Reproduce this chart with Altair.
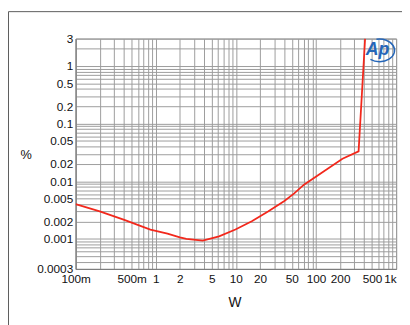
import altair as alt
import pandas as pd

# Measured curve (power in W, THD+N in %)
watts = [0.1, 0.2, 0.405, 0.857, 1.4, 2.0, 2.41, 3.86, 6.17, 9.87, 15.8, 25.2, 40.3, 53.5,
         70.8, 214, 340, 410]
pct = [0.0040, 0.0030, 0.00213, 0.00144, 0.00123, 0.00106, 0.00100, 0.00093, 0.00110,
       0.00145, 0.00202, 0.00299, 0.00454, 0.00614, 0.0087, 0.0245, 0.0331, 3.0]

x_labels = {0.1: "100m", 0.5: "500m", 1.0: "1", 2.0: "2", 5.0: "5", 10.0: "10", 20.0: "20",
            50.0: "50", 100.0: "100", 200.0: "200", 500.0: "500", 1000.0: "1k"}
y_labels = {3.0: "3", 1.0: "1", 0.5: "0.5", 0.2: "0.2", 0.1: "0.1", 0.05: "0.05", 0.02: "0.02",
            0.01: "0.01", 0.005: "0.005", 0.002: "0.002", 0.001: "0.001", 0.0003: "0.0003"}

x_grid = [float(f"{k}e{e}") for e in range(-1, 3) for k in range(1, 10)] + [1000.0]
y_grid = ([float(f"{k}e-4") for k in range(3, 10)]
          + [float(f"{k}e{e}") for e in range(-3, 0) for k in range(1, 10)]
          + [1.0, 2.0, 3.0])


def label_expr(mapping):
    expr = "''"
    for v, s in reversed(list(mapping.items())):
        expr = f"datum.value == {repr(v)} ? '{s}' : ({expr})"
    return expr


df = pd.DataFrame({"w": watts, "pct": pct})

x_enc = alt.X("w:Q",
              scale=alt.Scale(type="log", domain=[0.1, 1000], nice=False),
              axis=alt.Axis(values=x_grid, labelExpr=label_expr(x_labels), title="W",
                            labelOverlap=False, labelFlush=False, ticks=False,
                            labelPadding=5,
                            labelAlign={"expr": "datum.value >= 1000 ? 'right' : 'center'"},
                            titleX=162, titleY=34, titleBaseline="middle",
                            titleFontSize=14, titleFontWeight="normal"))
y_enc = alt.Y("pct:Q",
              scale=alt.Scale(type="log", domain=[0.0003, 3], nice=False),
              axis=alt.Axis(values=y_grid, labelExpr=label_expr(y_labels), title="%",
                            labelOverlap=False, labelFlush=False, ticks=False,
                            labelPadding=3, titleAngle=0, titleX=-51, titleY=118,
                            titleAlign="center", titleBaseline="middle",
                            titleFontSize=13, titleFontWeight="normal"))

line = alt.Chart(df).mark_line(color="#f2281c", strokeWidth=1.8, clip=True).encode(
    x=x_enc, y=y_enc)

one = pd.DataFrame({"a": [0]})
frame = alt.Chart(one).mark_rect(fillOpacity=0, stroke="#5a5a5a", strokeWidth=1).encode(
    x=alt.value(-68.5), x2=alt.value(420), y=alt.value(-27.5), y2=alt.value(420))

logo_text = alt.Chart(one).mark_text(text="Ap", font="Liberation Sans", fontStyle="italic",
                                     fontWeight="bold", fontSize=18, color="#2566b8",
                                     align="center", baseline="middle").encode(
    x=alt.value(308), y=alt.value(12))
logo_ring = alt.Chart(one).mark_point(
    shape="M -0.2 -0.735 A 1 0.75 0 1 1 -0.6 0.6", filled=False, stroke="#2566b8",
    strokeWidth=1.5, size=950, opacity=1).encode(x=alt.value(310), y=alt.value(12))

chart = alt.layer(line, frame, logo_text, logo_ring).properties(
    width=327, height=235,
    padding={"left": 69, "top": 28, "right": 6, "bottom": 54},
    autosize=alt.AutoSizeParams(type="none"),
    background="white",
).configure_axis(
    gridColor="#9c9c9c", gridWidth=1, gridOpacity=1,
    domainColor="#7a7a7a",
    labelFont="Liberation Sans", labelFontSize=12, labelColor="#111111",
    titleFont="Liberation Sans", titleColor="#111111",
).configure_view(stroke="#8a8a8a")

chart.save("out.html", embed_options={"renderer": "svg", "actions": False})
